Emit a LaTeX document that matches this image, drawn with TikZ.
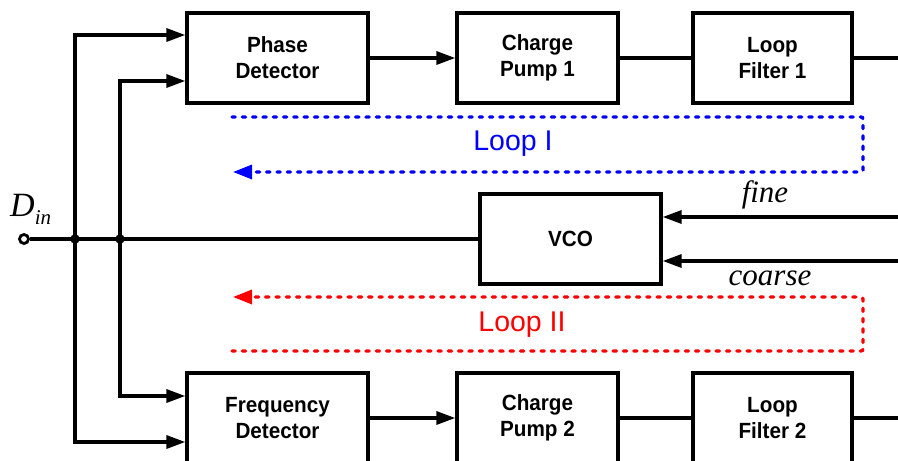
\documentclass[tikz,border=0pt]{standalone}
\usepackage{fontspec}
\newfontfamily\lsans{Liberation Sans}
\newfontfamily\boxfont[FakeStretch=0.94]{Liberation Sans}
\newfontfamily\lserif{Liberation Serif}
\usetikzlibrary{arrows.meta}
\begin{document}
\begin{tikzpicture}[x=1pt,y=-1pt,
  blk/.style={draw, line width=3.3pt, minimum height=90pt, inner sep=0pt,
    font=\boxfont\bfseries\fontsize{22}{26}\selectfont, align=center},
  wire/.style={line width=3.3pt},
  arr/.style={wire, -{Triangle[length=19pt,width=13pt]}},
  loopline/.style={line width=3.3pt, line cap=round, dash pattern=on 3.3pt off 7pt, rounded corners=2pt},
  looparr/.style={loopline, -{Triangle[length=19pt,width=14pt]}},
  looplabel/.style={font=\lsans\fontsize{28.5}{32}\selectfont},
  sig/.style={font=\lserif\itshape\fontsize{31}{34}\selectfont, inner sep=0pt, anchor=base},
  dot/.style={circle, fill=black, inner sep=0pt, minimum size=9.5pt},
  term/.style={circle, draw, fill=white, line width=2.8pt, inner sep=0pt, minimum size=9pt}
]
\path[use as bounding box, clip] (0,0) rectangle (898,461);

% blocks
\node[blk, minimum width=181pt] (PD) at (277.5,58) {Phase\\Detector};
\node[blk, minimum width=161pt] (CP1) at (537.5,58) {Charge\\Pump 1};
\node[blk, minimum width=159pt] (LF1) at (772.5,58) {Loop\\Filter 1};
\node[blk, minimum width=181pt] (VCO) at (570.5,239) {VCO};
\node[blk, minimum width=181pt] (FD) at (277.5,418) {Frequency\\Detector};
\node[blk, minimum width=161pt] (CP2) at (537.5,418) {Charge\\Pump 2};
\node[blk, minimum width=159pt] (LF2) at (772.5,418) {Loop\\Filter 2};

% upper and lower chains
\draw[arr] (PD.east) -- (CP1.west);
\draw[wire] (CP1.east) -- (LF1.west);
\coordinate (out1) at (900,58);
\draw[wire] (LF1.east) -- (out1);
\draw[arr] (FD.east) -- (CP2.west);
\draw[wire] (CP2.east) -- (LF2.west);
\coordinate (out2) at (900,418);
\draw[wire] (LF2.east) -- (out2);

% VCO inputs
\coordinate (fin) at (900,217);
\coordinate (cin) at (900,261);
\draw[arr] (fin) -- (VCO.east |- fin);
\draw[arr] (cin) -- (VCO.east |- cin);
\node[sig] (fine) at (765,202) {fine};
\node[sig] (coarse) at (770,285) {coarse};

% input and distribution
\node[term] (Din) at (24,239) {};
\node[dot] (j1) at (75,239) {};
\node[dot] (j2) at (120,239) {};
\node[anchor=base west, inner sep=0pt, font=\lserif\itshape\fontsize{34}{36}\selectfont] (Dlab) at (10,216) {D\raisebox{-8pt}{\fontsize{21}{24}\selectfont in}};
\draw[wire] (Din.east) -- (j1.center) -- (j2.center) -- (VCO.west |- j2);
\coordinate (a1) at (75,35);
\coordinate (a2) at (75,442);
\coordinate (b1) at (120,81);
\coordinate (b2) at (120,396);
\draw[arr] (j1.center) -- (a1) -- (PD.west |- a1);
\draw[arr] (j1.center) -- (a2) -- (FD.west |- a2);
\draw[arr] (j2.center) -- (b1) -- (PD.west |- b1);
\draw[arr] (j2.center) -- (b2) -- (FD.west |- b2);

% Loop I
\coordinate (l1s) at (232,117);
\coordinate (l1e) at (233,172);
\draw[looparr, blue] (l1s) -- (863,117) -- (863,172) -- (l1e);
\node[looplabel, text=blue] (L1) at (513,144) {Loop I};

% Loop II
\coordinate (l2s) at (232,351);
\coordinate (l2e) at (233,297);
\draw[looparr, red] (l2s) -- (863,351) -- (863,297) -- (l2e);
\node[looplabel, text=red] (L2) at (522,325) {Loop II};
\end{tikzpicture}
\end{document}
